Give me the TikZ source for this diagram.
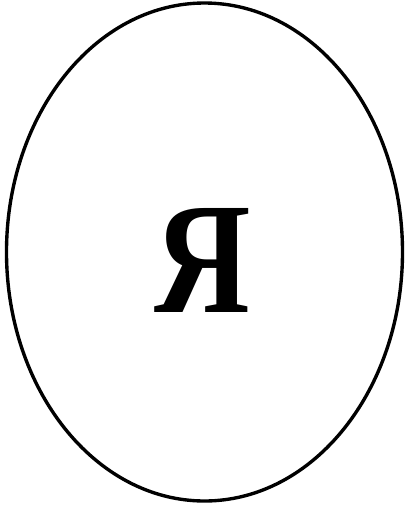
\documentclass[tikz,border=0pt]{standalone}
\usepackage{fontspec}
\newfontfamily\cyrserif{Liberation Serif}

\begin{document}
\begin{tikzpicture}[line width=2.4pt]
\def\h{0.025}
\useasboundingbox (0,0) rectangle ({405*\h},{-505*\h});
\draw ({204.5*\h},{-252*\h}) ellipse ({198*\h} and {249*\h});
\node[xscale=0.84] (ya) at ({202.5*\h},{-260.5*\h})
	{\cyrserif\bfseries\fontsize{113}{113}\selectfont Я};
\end{tikzpicture}
\end{document}
